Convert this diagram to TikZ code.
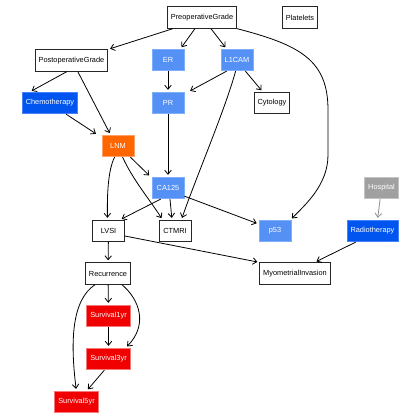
\documentclass[tikz,border=0pt]{standalone}
\usepackage{fontspec}
\setmainfont{Liberation Sans}
\usetikzlibrary{arrows.meta}
\definecolor{lbfill}{RGB}{85,145,245}
\definecolor{lbdraw}{RGB}{125,175,250}
\definecolor{dbfill}{RGB}{0,85,240}
\definecolor{dbdraw}{RGB}{70,130,250}
\definecolor{orfill}{RGB}{255,102,0}
\definecolor{ordraw}{RGB}{255,160,100}
\definecolor{gyfill}{RGB}{160,160,160}
\definecolor{gydraw}{RGB}{195,195,195}
\definecolor{rdfill}{RGB}{240,0,0}
\definecolor{rddraw}{RGB}{245,120,120}
\tikzset{
  base/.style={rectangle, minimum height=21.5bp, minimum width=32bp, inner xsep=3.5bp, inner ysep=2bp, font=\fontsize{7.4}{8}\selectfont, line width=0.8bp},
  wbox/.style={base, draw=black!85, fill=white, text=black},
  lbox/.style={base, draw=lbdraw, fill=lbfill, text=white},
  dbox/.style={base, draw=dbdraw, fill=dbfill, text=white},
  obox/.style={base, draw=ordraw, fill=orfill, text=white},
  gbox/.style={base, draw=gydraw, fill=gyfill, text=white},
  rbox/.style={base, draw=rddraw, fill=rdfill, text=white},
  edge/.style={draw=black, line width=0.8bp, -{Straight Barb[length=4bp,width=6.5bp,line width=0.8bp]}, shorten >=2bp},
  gedge/.style={edge, draw=gray!90}
}
\begin{document}
\begin{tikzpicture}[x=1bp,y=-1bp]
\useasboundingbox (0,0) rectangle (420,420);
\node[wbox] (pre) at (202,17.5) {PreoperativeGrade};
\node[wbox] (plt) at (300,17.5) {Platelets};
\node[wbox] (post) at (71.5,60.5) {PostoperativeGrade};
\node[lbox] (er) at (168,60) {ER};
\node[lbox] (l1) at (237,60) {L1CAM};
\node[dbox] (chemo) at (50,103) {Chemotherapy};
\node[lbox] (pr) at (168,103) {PR};
\node[wbox] (cyt) at (272,103) {Cytology};
\node[obox] (lnm) at (118,146) {LNM};
\node[lbox] (ca) at (168,188) {CA125};
\node[gbox] (hosp) at (381.5,188) {Hospital};
\node[wbox] (lvsi) at (108.5,231) {LVSI};
\node[wbox] (ct) at (175,231) {CTMRI};
\node[lbox] (p53) at (275,231) {p53};
\node[dbox] (radio) at (372.5,231) {Radiotherapy};
\node[wbox] (rec) at (108,273.5) {Recurrence};
\node[wbox] (myo) at (295,273.5) {MyometrialInvasion};
\node[rbox] (s1) at (108.5,316) {Survival1yr};
\node[rbox] (s3) at (108.5,359) {Survival3yr};
\node[rbox] (s5) at (76.5,402) {Survival5yr};

\draw[edge] ([xshift=6bp]pre.south west) -- (post.north east);
\draw[edge] ([xshift=28bp]pre.south west) -- ([xshift=-4bp]er.north east);
\draw[edge] ([xshift=44bp]pre.south west) -- ([xshift=6bp]l1.north west);
\draw[edge] (pre.south east) .. controls (300,45) and (328,60) .. (328,110) -- (328,155) .. controls (328,185) and (305,205) .. ([xshift=-1bp]p53.north east);
\draw[edge] ([xshift=32bp]post.south west) -- ([xshift=8bp]chemo.north west);
\draw[edge] ([xshift=43bp]post.south west) -- ([xshift=9bp]lnm.north west);
\draw[edge] ([xshift=-12bp]chemo.south east) -- ([xshift=-4bp]lnm.north west);
\draw[edge] (er) -- (pr);
\draw[edge] ([xshift=6bp]l1.south west) -- ([xshift=4bp]pr.north east);
\draw[edge] ([xshift=-8bp]l1.south east) -- ([xshift=9bp]cyt.north west);
\draw[edge] ([xshift=15bp]l1.south west) .. controls (225,110) and (195,180) .. ([xshift=-10bp]ct.north east);
\draw[edge] (pr) -- (ca);
\draw[edge] ([xshift=-4bp]lnm.south east) -- ([xshift=-1bp]ca.north west);
\draw[edge] ([xshift=13bp]lnm.south west) .. controls (108,170) and (107,195) .. ([xshift=-1bp]lvsi.north);
\draw[edge] ([xshift=21bp]lnm.south west) .. controls (133,180) and (150,200) .. ([xshift=4bp]ct.north west);
\draw[edge] ([xshift=9bp]ca.south west) -- ([xshift=-5bp]lvsi.north east);
\draw[edge] ([xshift=2bp]ca.south) -- ([xshift=-3bp]ct.north);
\draw[edge] ([yshift=3bp]ca.south east) -- ([yshift=7bp]p53.west);
\draw[edge] (lvsi) -- (rec);
\draw[edge] ([yshift=-5bp]lvsi.east) -- (myo.north west);
\draw[gedge] (hosp) -- ([xshift=5bp]radio.north);
\draw[edge] ([xshift=9bp]radio.south west) -- ([xshift=-16bp]myo.north east);
\draw[edge] (rec) -- (s1);
\draw[edge] (s1) -- (s3);
\draw[edge] ([xshift=-9bp]rec.south east) .. controls (140,300) and (148,325) .. ([xshift=-5bp]s3.north east);
\draw[edge] ([xshift=10bp]rec.south west) .. controls (72,300) and (70,340) .. ([xshift=22bp]s5.north west);
\draw[edge] ([xshift=18bp]s3.south west) -- ([xshift=-12bp]s5.north east);
\end{tikzpicture}
\end{document}
